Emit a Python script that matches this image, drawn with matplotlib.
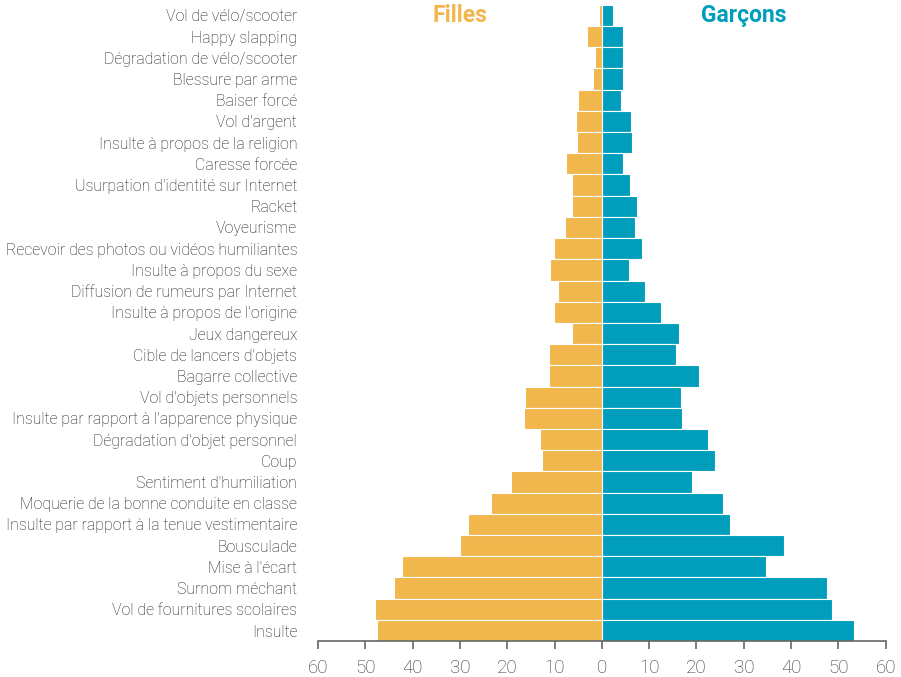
import numpy as np
import matplotlib.pyplot as plt

categories = [
    "Vol de vélo/scooter", "Happy slapping", "Dégradation de vélo/scooter",
    "Blessure par arme", "Baiser forcé", "Vol d'argent",
    "Insulte à propos de la religion", "Caresse forcée",
    "Usurpation d'identité sur Internet", "Racket", "Voyeurisme",
    "Recevoir des photos ou vidéos humiliantes", "Insulte à propos du sexe",
    "Diffusion de rumeurs par Internet", "Insulte à propos de l'origine",
    "Jeux dangereux", "Cible de lancers d'objets", "Bagarre collective",
    "Vol d'objets personnels", "Insulte par rapport à l'apparence physique",
    "Dégradation d'objet personnel", "Coup", "Sentiment d'humiliation",
    "Moquerie de la bonne conduite en classe",
    "Insulte par rapport à la tenue vestimentaire", "Bousculade",
    "Mise à l'écart", "Surnom méchant", "Vol de fournitures scolaires", "Insulte",
]
filles = [0.7, 3.2, 1.4, 1.8, 5.1, 5.4, 5.3, 7.5, 6.3, 6.4, 7.7, 10.1, 11.0,
          9.3, 10.2, 6.3, 11.2, 11.1, 16.3, 16.5, 13.1, 12.7, 19.2, 23.4,
          28.3, 30.0, 42.2, 43.9, 47.9, 47.5]
garcons = [2.3, 4.5, 4.4, 4.4, 4.0, 6.1, 6.4, 4.4, 5.9, 7.4, 7.1, 8.5, 5.8,
           9.2, 12.4, 16.4, 15.6, 20.5, 16.7, 16.9, 22.4, 24.0, 19.0, 25.7,
           27.1, 38.6, 34.6, 47.5, 48.7, 53.2]

orange = "#F1B74C"
teal = "#009EBC"

plt.rcParams['font.family'] = ['Roboto', 'DejaVu Sans']

fig = plt.figure(figsize=(9.01, 6.77), dpi=100)
ax = fig.add_axes([0.353, 0.053, 0.630, 0.940])

y = np.arange(len(categories))[::-1]
ax.barh(y, -np.array(filles), height=1.0, color=orange, edgecolor="white", linewidth=0.8)
ax.barh(y, garcons, height=1.0, color=teal, edgecolor="white", linewidth=0.8)

ax.set_ylim(-0.5, len(categories) - 0.5)
ax.set_xlim(-60, 60)
ax.set_yticks(y)
ax.set_yticklabels(categories, fontsize=11.4, fontweight="light", color="#1a1a1a")
ax.tick_params(axis="y", length=0, pad=15)

ticks = np.arange(-60, 61, 10)
ax.set_xticks(ticks)
ax.set_xticklabels([str(abs(t)) for t in ticks], fontsize=13.5, fontweight="light", color="#333333")
ax.tick_params(axis="x", length=6, width=1.2, color="#666666", pad=7)

for s in ["top", "right", "left"]:
    ax.spines[s].set_visible(False)
ax.spines["bottom"].set_color("#666666")
ax.spines["bottom"].set_linewidth(1.2)

ax.text(-30, len(categories) - 1, "Filles", color=orange, fontsize=16.5,
        fontweight="bold", ha="center", va="center")
ax.text(30, len(categories) - 1, "Garçons", color=teal, fontsize=16.5,
        fontweight="bold", ha="center", va="center")

plt.savefig("out.png", dpi=100)
